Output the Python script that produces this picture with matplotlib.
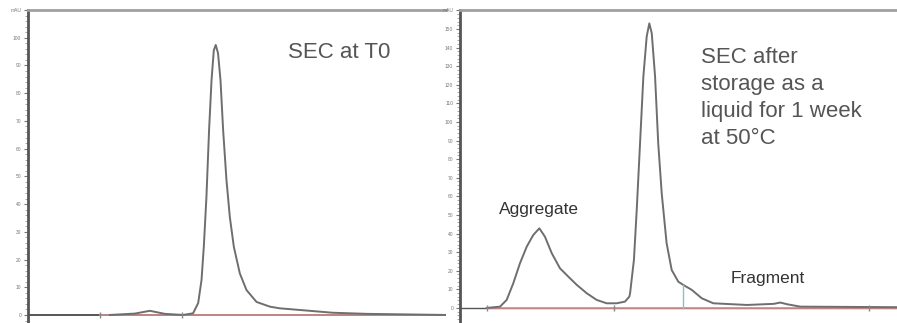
import matplotlib
matplotlib.use("Agg")
import matplotlib.pyplot as plt

plt.rcParams['font.family'] = ['Liberation Sans', 'DejaVu Sans']

# Chromatogram at T0 (time in min, signal in mAU)
t0_time = [4.66, 6.09, 6.94, 7.79, 8.83, 9.40, 9.69, 9.88, 10.01, 10.16, 10.31,
           10.45, 10.58, 10.69, 10.82, 10.96, 11.11, 11.30, 11.49, 11.72, 12.06,
           12.44, 13.01, 13.77, 14.33, 15.47, 17.35, 19.28, 23.8]
t0_signal = [0.0, 0.5, 1.5, 0.4, 0.0, 0.6, 4.3, 12.6, 24.6, 42.6, 66.7,
             84.7, 95.5, 97.4, 94.4, 84.7, 66.7, 48.7, 35.4, 24.6, 15.0,
             9.0, 4.7, 3.0, 2.4, 1.8, 0.8, 0.4, 0.0]
t0_marks = [4.1, 8.76]
t0_baseline = [4.1, 23.8]

# Chromatogram after 1 week at 50 °C
wk_time = [1.53, 2.29, 2.67, 3.05, 3.43, 3.82, 4.19, 4.54, 4.86, 5.25, 5.72,
           6.20, 6.68, 7.25, 7.82, 8.39, 8.96, 9.44, 9.69, 9.73, 9.95, 10.11,
           10.30, 10.49, 10.68, 10.83, 10.97, 11.16, 11.34, 11.54, 11.82, 12.11,
           12.49, 12.77, 13.26, 13.83, 14.49, 16.42, 17.95, 18.32, 18.71, 19.47,
           25.0]
wk_signal = [0.0, 0.7, 4.3, 13.3, 24.0, 33.0, 39.2, 42.8, 38.3, 29.4, 21.3,
             16.8, 12.4, 7.9, 4.3, 2.5, 2.5, 3.4, 6.1, 7.9, 25.8, 52.7,
             88.5, 124.4, 145.9, 153.0, 147.7, 124.4, 88.5, 61.6, 34.8, 20.4,
             14.1, 12.4, 9.7, 5.2, 2.5, 1.6, 2.2, 2.9, 2.0, 0.7,
             0.4]
wk_marks = [1.54, 8.79, 23.4]
wk_baseline = [1.54, 25.0]
wk_drop_time = 12.77
wk_drop_signal = 12.4

left_ticks = list(range(0, 110, 10))
right_ticks = list(range(0, 160, 10))

fig = plt.figure(figsize=(8.97, 3.23), dpi=100)
ax1 = fig.add_axes([28 / 897, 0.0, 418 / 897, 313 / 323])
ax2 = fig.add_axes([460 / 897, 0.0, 437 / 897, 313 / 323])

line_col = '#6e6e6e'
base_col = '#d59090'

# left panel
ax1.axhline(0, color='#555555', lw=1.4)
ax1.plot(t0_baseline, [0, 0], color=base_col, lw=1.2)
ax1.plot(t0_time, t0_signal, color=line_col, lw=1.4)
ax1.plot(t0_marks, [0] * len(t0_marks), '|', color='#888888', ms=5)
ax1.set_xlim(0, 23.8)
ax1.set_ylim(-2.9, 110)
ax1.set_yticks(left_ticks + [110])
ax1.set_yticklabels([str(v) for v in left_ticks] + ['mAU'])
ax1.text(14.8, 94.5, 'SEC at T0', fontsize=16, color='#555555', va='center')

# right panel
ax2.axhline(0, color='#555555', lw=1.0)
ax2.plot(wk_baseline, [0, 0], color=base_col, lw=1.2)
ax2.plot(wk_time, wk_signal, color=line_col, lw=1.4)
ax2.plot([wk_drop_time, wk_drop_time], [0, wk_drop_signal], color='#7cc4d0', lw=1.0)
ax2.plot(wk_marks, [0] * len(wk_marks), '|', color='#888888', ms=5)
ax2.set_xlim(0, 25)
ax2.set_ylim(-8.1, 160.2)
ax2.set_yticks(right_ticks + [160])
ax2.set_yticklabels([str(v) for v in right_ticks] + ['mAU'])
ax2.text(13.8, 140.3, 'SEC after\nstorage as a\nliquid for 1 week\nat 50°C',
         fontsize=16, color='#555555', va='top', linespacing=1.37)
ax2.text(4.5, 53, 'Aggregate', fontsize=12.5, color='#333333', ha='center', va='center')
ax2.text(17.6, 16, 'Fragment', fontsize=12.5, color='#333333', ha='center', va='center')

for ax in (ax1, ax2):
    ax.set_xticks([])
    ax.spines['bottom'].set_visible(False)
    ax.spines['right'].set_visible(False)
    ax.spines['top'].set_color('#a0a0a0')
    ax.spines['top'].set_linewidth(2)
    ax.spines['left'].set_color('#555555')
    ax.spines['left'].set_linewidth(2)
    ax.minorticks_on()
    ax.xaxis.set_tick_params(which='minor', bottom=False)
    ax.tick_params(axis='y', which='major', length=3, width=0.8, colors='#777777',
                   labelsize=3.5, pad=2)
    ax.tick_params(axis='y', which='minor', length=2, width=0.5, colors='#888888')

fig.savefig('out.png', dpi=100)
